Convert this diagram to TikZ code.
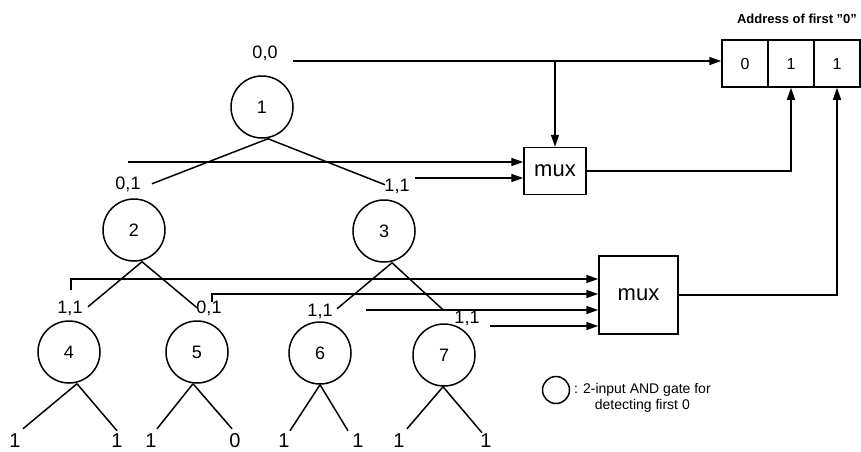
\documentclass[tikz,border=0pt]{standalone}
\usepackage{fontspec}
\setmainfont{Liberation Sans}
\usetikzlibrary{arrows.meta}
\begin{document}
\begin{tikzpicture}[x=1pt,y=-1pt,line width=1.5pt,
	gate/.style={draw,circle,minimum size=62pt,inner sep=0pt,font=\fontsize{18}{21}\selectfont},
	lbl/.style={inner sep=0pt,font=\fontsize{18}{21}\selectfont},
	leaf/.style={inner sep=0pt,anchor=north,font=\fontsize{20}{24}\selectfont},
	muxbox/.style={draw,inner sep=0pt,font=\fontsize{22}{26}\selectfont},
	cell/.style={draw,minimum width=46pt,minimum height=47pt,inner sep=0pt,font=\fontsize{16}{19}\selectfont},
	tip/.style={-{Stealth[length=12pt,width=8pt,inset=0pt]}}]
	\useasboundingbox (0,0) rectangle (861,451);
	\node[gate] (g1) at (262,107) {1};
	\node[gate] (g2) at (134,230) {2};
	\node[gate] (g3) at (384,231) {3};
	\node[gate] (g4) at (69,352) {4};
	\node[gate] (g5) at (197,352) {5};
	\node[gate] (g6) at (320,353) {6};
	\node[gate] (g7) at (444,355) {7};
	\node[lbl] (a0) at (265,53) {0,0};
	\node[lbl] (a2) at (128,184) {0,1};
	\node[lbl] (a3) at (397,186) {1,1};
	\node[lbl] (a4) at (70,308) {1,1};
	\node[lbl] (a5) at (209,308) {0,1};
	\node[lbl] (a6) at (320,311) {1,1};
	\node[lbl] (a7) at (467,318) {1,1};
	\node[leaf] (b1) at (15,433) {1};
	\node[leaf] (b2) at (117,433) {1};
	\node[leaf] (b3) at (151,433) {1};
	\node[leaf] (b4) at (235,433) {0};
	\node[leaf] (b5) at (284,433) {1};
	\node[leaf] (b6) at (358,433) {1};
	\node[leaf] (b7) at (399,433) {1};
	\node[leaf] (b8) at (486,433) {1};
	\draw ([xshift=6pt]g1.south) -- ++(-116,45) coordinate (e1l);
	\draw ([xshift=6pt]g1.south) -- ++(117,46) coordinate (e1r);
	\draw ([xshift=8pt]g2.south) -- ++(-54,45) coordinate (e2l);
	\draw ([xshift=8pt]g2.south) -- ++(55,46) coordinate (e2r);
	\draw ([xshift=8pt]g3.south) -- ++(-55,46) coordinate (e3l);
	\draw ([xshift=8pt]g3.south) -- ++(51,47) coordinate (e3r);
	\draw ([xshift=8pt]g4.south) -- ++(-54,45) coordinate (e4l);
	\draw ([xshift=8pt]g4.south) -- ++(40,47) coordinate (e4r);
	\draw ([xshift=-4pt]g5.south) -- ++(-36,45) coordinate (e5l);
	\draw ([xshift=-4pt]g5.south) -- ++(39,45) coordinate (e5r);
	\draw (g6.south) -- ++(-30,46) coordinate (e6l);
	\draw (g6.south) -- ++(28,46) coordinate (e6r);
	\draw ([xshift=-1pt]g7.south) -- ++(-36,42) coordinate (e7l);
	\draw ([xshift=-1pt]g7.south) -- ++(39,46) coordinate (e7r);
	\node[cell] (r0) at (745,63.5) {0};
	\node[cell] (r1) at (791,63.5) {1};
	\node[cell] (r2) at (837,63.5) {1};
	\node[font=\bfseries\fontsize{13}{15}\selectfont] (addr) at (797,19) {Address of first \symbol{34}0\symbol{34}};
	\node[muxbox,minimum width=62pt,minimum height=47pt] (m1) at (555,171) {mux};
	\node[muxbox,minimum width=79pt,minimum height=78pt] (m2) at (638.5,295) {mux};
	\coordinate (s0) at (293,61);
	\coordinate (s1) at (128,162);
	\coordinate (s2) at (415,178);
	\coordinate (s3) at (71,290);
	\coordinate (s4) at (212,302);
	\coordinate (s5) at (366,310);
	\coordinate (s6) at (490,326);
	\draw[tip] (s0) -- (s0 -| r0.west);
	\draw[tip] (s0 -| m1.north) -- (m1.north);
	\draw[tip] (s1) -- (s1 -| m1.west);
	\draw[tip] (s2) -- (s2 -| m1.west);
	\draw[tip] (m1.east) -| (r1.south);
	\draw[tip] (s3) |- ([yshift=16pt]m2.west);
	\draw[tip] (s4) |- ([yshift=1pt]m2.west);
	\draw[tip] (s5) -- (s5 -| m2.west);
	\draw[tip] (s6) -- (s6 -| m2.west);
	\draw[tip] (m2.east) -| (r2.south);
	\node[draw,circle,minimum size=27pt,inner sep=0pt] (key) at (556,390) {};
	\node[anchor=west,align=center,inner sep=3pt,font=\fontsize{14}{16}\selectfont] (keytext) at ([yshift=-8pt]key.east) {: 2-input AND gate for\\detecting first 0};
\end{tikzpicture}
\end{document}
